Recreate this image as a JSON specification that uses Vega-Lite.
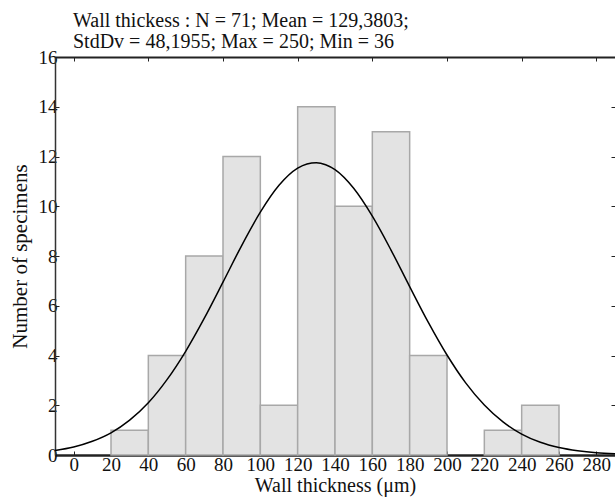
{
  "$schema": "https://vega.github.io/schema/vega-lite/v6.json",
  "width": 560,
  "height": 398,
  "autosize": {"type": "none"},
  "padding": {"left": 55, "top": 57, "right": 0, "bottom": 46},
  "background": "white",
  "config": {
    "font": "Liberation Serif",
    "view": {"stroke": null},
    "axis": {"labelFont": "Liberation Serif", "titleFont": "Liberation Serif", "labelColor": "#111", "titleColor": "#111", "titleFontWeight": "normal", "grid": false}
  },
  "title": {
    "text": ["Wall thickess : N = 71; Mean = 129,3803;", "StdDv = 48,1955; Max = 250; Min = 36"],
    "anchor": "start",
    "frame": "group",
    "dx": 18,
    "offset": -4,
    "fontSize": 20,
    "fontWeight": "normal",
    "font": "Liberation Serif",
    "color": "#111",
    "lineHeight": 21
  },
  "datasets": {
    "bins": [
      {"start": 20, "end": 40, "count": 1},
      {"start": 40, "end": 60, "count": 4},
      {"start": 60, "end": 80, "count": 8},
      {"start": 80, "end": 100, "count": 12},
      {"start": 100, "end": 120, "count": 2},
      {"start": 120, "end": 140, "count": 14},
      {"start": 140, "end": 160, "count": 10},
      {"start": 160, "end": 180, "count": 13},
      {"start": 180, "end": 200, "count": 4},
      {"start": 220, "end": 240, "count": 1},
      {"start": 240, "end": 260, "count": 2}
    ],
    "curve": [
      {"x": -10, "y": 0.18}, {"x": 0, "y": 0.32}, {"x": 10, "y": 0.55}, {"x": 20, "y": 0.89},
      {"x": 30, "y": 1.4}, {"x": 40, "y": 2.1}, {"x": 50, "y": 3.03}, {"x": 60, "y": 4.17},
      {"x": 70, "y": 5.5}, {"x": 80, "y": 6.95}, {"x": 90, "y": 8.42}, {"x": 100, "y": 9.76},
      {"x": 110, "y": 10.84}, {"x": 120, "y": 11.53}, {"x": 125, "y": 11.7}, {"x": 130, "y": 11.75},
      {"x": 135, "y": 11.67}, {"x": 140, "y": 11.47}, {"x": 150, "y": 10.72}, {"x": 160, "y": 9.6},
      {"x": 170, "y": 8.24}, {"x": 180, "y": 6.77}, {"x": 190, "y": 5.33}, {"x": 200, "y": 4.02},
      {"x": 210, "y": 2.9}, {"x": 220, "y": 2.01}, {"x": 230, "y": 1.33}, {"x": 240, "y": 0.84},
      {"x": 250, "y": 0.51}, {"x": 260, "y": 0.3}, {"x": 270, "y": 0.17}, {"x": 280, "y": 0.09},
      {"x": 290, "y": 0.05}
    ]
  },
  "layer": [
    {
      "data": {"name": "bins"},
      "mark": {"type": "rect", "fill": "#e3e3e3", "stroke": "#a8a8a8", "strokeWidth": 1.5},
      "encoding": {
        "x": {
          "field": "start", "type": "quantitative",
          "scale": {"domain": [-10, 290], "nice": false, "zero": false},
          "axis": {
            "title": "Wall thickness (μm)", "titleFontSize": 20, "titlePadding": 1,
            "values": [0, 20, 40, 60, 80, 100, 120, 140, 160, 180, 200, 220, 240, 260, 280],
            "labelFontSize": 19, "labelPadding": 4, "labelFlush": false,
            "tickSize": -4, "tickColor": "#222", "domainColor": "#222", "domainWidth": 2.5
          }
        },
        "x2": {"field": "end"},
        "y": {
          "field": "count", "type": "quantitative",
          "scale": {"domain": [0, 16], "nice": false},
          "axis": {
            "title": "Number of specimens", "titleFontSize": 21, "titlePadding": 8,
            "values": [0, 2, 4, 6, 8, 10, 12, 14, 16],
            "labelFontSize": 19, "labelPadding": 2, "labelFlush": false,
            "tickSize": -4, "tickColor": "#222", "domainColor": "#333", "domainWidth": 1.5
          }
        },
        "y2": {"datum": 0}
      }
    },
    {
      "data": {"name": "curve"},
      "mark": {"type": "line", "color": "#000", "strokeWidth": 1.5, "interpolate": "monotone", "clip": true},
      "encoding": {
        "x": {"field": "x", "type": "quantitative", "scale": {"domain": [-10, 290], "nice": false, "zero": false}, "axis": null},
        "y": {"field": "y", "type": "quantitative", "scale": {"domain": [0, 16], "nice": false}, "axis": null}
      }
    },
    {
      "data": {"values": [{"v": 0}]},
      "mark": {"type": "rule", "opacity": 0},
      "encoding": {
        "x": {"datum": 0, "type": "quantitative", "scale": {"domain": [-10, 290], "nice": false, "zero": false}, "axis": {"orient": "top", "values": [0, 40, 80, 120, 160, 200, 240, 280], "labels": false, "title": null, "tickSize": -4, "tickColor": "#222", "domainColor": "#222", "domainWidth": 2}},
        "y": {"datum": 0, "type": "quantitative", "scale": {"domain": [0, 16], "nice": false}, "axis": {"orient": "right", "values": [2, 4, 6, 8, 10, 12, 14], "labels": false, "title": null, "tickSize": -4, "tickColor": "#222", "domain": false}}
      }
    }
  ],
  "resolve": {"axis": {"x": "independent", "y": "independent"}, "scale": {"x": "independent", "y": "independent"}}
}
